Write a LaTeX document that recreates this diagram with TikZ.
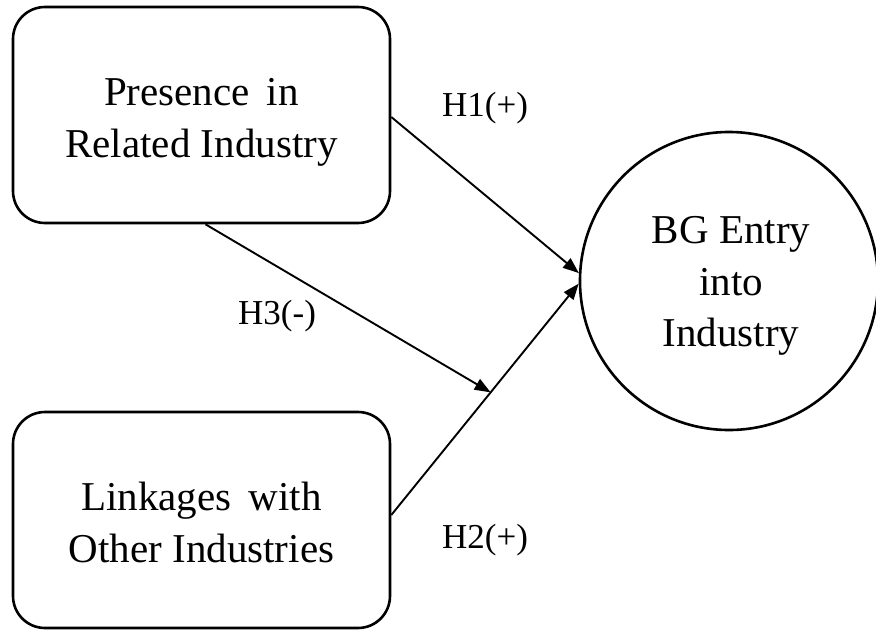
\documentclass[tikz,border=0pt]{standalone}
\usepackage{fontspec}
\setmainfont{Liberation Serif}
\usetikzlibrary{arrows.meta,calc}
\begin{document}
\begin{tikzpicture}[x=1pt,y=-1pt,
  boxnode/.style={draw=black,line width=2.6pt,rounded corners=32pt,minimum width=377pt,minimum height=216pt,inner sep=0pt},
  circnode/.style={draw=black,line width=2.6pt,circle,minimum size=298pt,inner sep=0pt},
  bigtext/.style={font=\fontsize{41}{52}\selectfont,anchor=base,inner sep=0pt},
  hyptext/.style={font=\fontsize{35}{42}\selectfont,anchor=base west,inner sep=0pt},
  arr/.style={line width=1.9pt,-{Triangle[length=16pt,width=12pt]}}]
\useasboundingbox (0,0) rectangle (876,630);
\fill[white] (0,0) rectangle (876,630);
% shapes
\node[boxnode] (pri) at (201.5,115) {};
\node[boxnode] (lwo) at (201.5,520) {};
\node[circnode] (bge) at (729,281) {};
% texts
\node[bigtext] (pri1) at (201.5,105) {Presence\hspace{0.42em}in};
\node[bigtext] (pri2) at (201.5,157) {Related Industry};
\node[bigtext] (lwo1) at (201.5,510) {Linkages\hspace{0.42em}with};
\node[bigtext] (lwo2) at (201.5,562) {Other Industries};
\node[bigtext] (bge1) at (731,243) {BG Entry};
\node[bigtext] (bge2) at (731,295) {into};
\node[bigtext] (bge3) at (731,346) {Industry};
% connectors
\coordinate (h1s) at ([yshift=-2pt]pri.east);
\coordinate (h2s) at ([yshift=5pt]lwo.east);
\coordinate (h1e) at (bge.177);
\coordinate (h2e) at (bge.181.5);
\coordinate (h3s) at ([xshift=4pt]pri.south);
\coordinate (h3e) at ($(h2s)!0.53!(h2e)$);
\draw[arr] (h1s) -- (h1e);
\draw[arr] (h2s) -- (h2e);
\draw[arr] (h3s) -- (h3e);
% labels
\node[hyptext] (lh1) at (442,116) {H1(+)};
\node[hyptext] (lh3) at (238,324) {H3(-)};
\node[hyptext] (lh2) at (442,548) {H2(+)};
\end{tikzpicture}
\end{document}
